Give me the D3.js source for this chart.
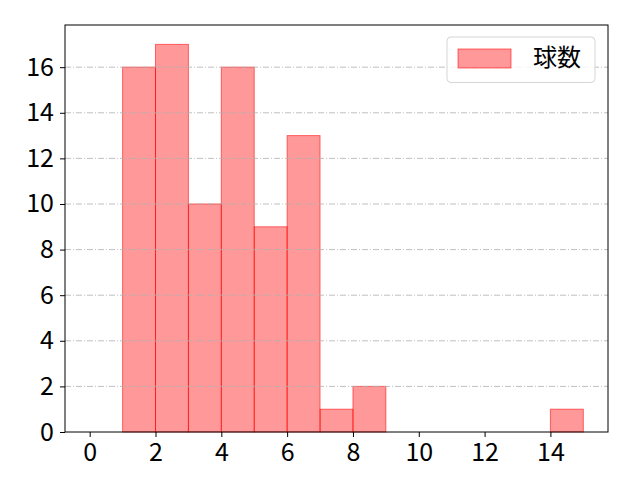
<!DOCTYPE html>
<html><head><meta charset="utf-8">
<script src="https://cdn.jsdelivr.net/npm/d3@7"></script>
<style>body{margin:0;background:#fff;} svg{display:block;font-family:"Noto Sans CJK JP","DejaVu Sans",sans-serif;}</style>
</head><body>
<svg id="c" width="640" height="480"></svg>
<script>
const binStarts = [1,2,3,4,5,6,7,8,9,10,11,12,13,14];
const counts    = [16,17,10,16,9,13,1,2,0,0,0,0,0,1];
const xTicks = [0,2,4,6,8,10,12,14];
const yTicks = [0,2,4,6,8,10,12,14,16];
const seriesName = "球数";

const svg = d3.select("#c");
const L=65,R=608,T=25,B=432;
const x = d3.scaleLinear().domain([-0.75,15.75]).range([L,R]);
const y = d3.scaleLinear().domain([0,17.85]).range([B,T]);

const data = binStarts.map((s,i)=>({s,c:counts[i]})).filter(d=>d.c>0);
svg.append("g").selectAll("rect").data(data).join("rect")
  .attr("x",d=>x(d.s)).attr("y",d=>y(d.c))
  .attr("width",d=>x(d.s+1)-x(d.s)).attr("height",d=>y(0)-y(d.c))
  .attr("fill","rgba(255,0,0,0.4)").attr("stroke","rgba(255,0,0,0.55)").attr("stroke-width",1);

// grid
svg.append("g").selectAll("line").data(yTicks.slice(1)).join("line")
  .attr("x1",L).attr("x2",R).attr("y1",d=>y(d)).attr("y2",d=>y(d))
  .attr("stroke","#b0b0b0").attr("stroke-width",0.8).attr("stroke-dasharray","6,2,1,2");

svg.append("rect").attr("x",L).attr("y",T).attr("width",R-L).attr("height",B-T)
  .attr("fill","none").attr("stroke","#000").attr("stroke-width",1);

const xa = svg.append("g").attr("transform",`translate(0,${B})`)
  .call(d3.axisBottom(x).tickValues(xTicks).tickSize(5).tickPadding(6).tickFormat(d3.format("d")));
const ya = svg.append("g").attr("transform",`translate(${L},0)`)
  .call(d3.axisLeft(y).tickValues(yTicks).tickSize(5).tickPadding(6).tickFormat(d3.format("d")));
[xa,ya].forEach(a=>{a.select(".domain").remove();
  a.attr("font-size",25).attr("font-family","'Noto Sans CJK JP',sans-serif");
  a.selectAll("text").attr("fill","#000");
  a.selectAll("line").attr("stroke","#000");});

// legend
const lg = svg.append("g");
lg.append("rect").attr("x",447).attr("y",37).attr("width",148).attr("height",45.5).attr("rx",4)
  .attr("fill","rgba(255,255,255,0.8)").attr("stroke","#d5d5d5");
lg.append("rect").attr("x",458).attr("y",49).attr("width",53).attr("height",19)
  .attr("fill","rgba(255,0,0,0.4)").attr("stroke","rgba(255,0,0,0.55)");
lg.append("text").attr("x",533).attr("y",65.5).attr("font-size",24).attr("fill","#000").text(seriesName);
</script>
</body></html>
